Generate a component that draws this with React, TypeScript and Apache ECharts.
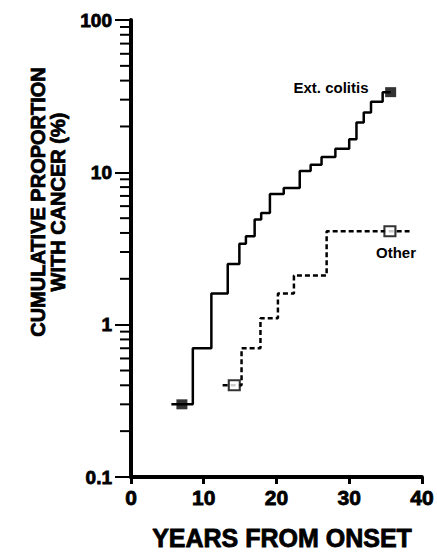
import React, { useEffect, useRef } from "react";
import * as echarts from "echarts";

const extColitis: [number, number][] = [
  [5.55, 0.3], [8.5, 0.7], [11.05, 1.6], [13.3, 2.5], [14.9, 3.4], [15.8, 3.8],
  [17.0, 4.9], [17.9, 5.4], [19.1, 7.2], [21.0, 7.9], [23.2, 10.2], [24.7, 11.2],
  [26.2, 12.6], [28.1, 14.3], [30.0, 16.5], [31.0, 21.2], [32.0, 24.7], [33.0, 29.1],
  [34.6, 33.6], [35.7, 33.6],
];
const extMarkers: [number, number][] = [[7.0, 0.3], [35.7, 33.6]];

const other: [number, number][] = [
  [12.6, 0.4], [15.2, 0.7], [17.8, 1.1], [20.2, 1.6], [22.4, 2.1], [26.9, 4.1], [38.3, 4.1],
];
const otherMarkers: [number, number][] = [[14.2, 0.4], [35.6, 4.1]];

const xTicks = [0, 10, 20, 30, 40];
const yMajorLabels: Record<string, string> = { "0.1": "0.1", "1": "1", "10": "10", "100": "100" };
const yMinorTicks = [0.2, 0.3, 0.4, 0.5, 0.6, 0.7, 0.8, 0.9, 2, 3, 4, 5, 6, 7, 8, 9, 20, 30, 40, 50, 60, 70, 80, 90];

const FONT = "Liberation Sans";

export default function App() {
  const ref = useRef<HTMLDivElement>(null);
  useEffect(() => {
    if (!ref.current) return;
    const chart = echarts.init(ref.current, undefined, { renderer: "svg" });
    chart.setOption({
      animation: false,
      backgroundColor: "#fff",
      textStyle: { fontFamily: FONT, fontWeight: "bold", color: "#000" },
      grid: { left: 131, right: 13, top: 20, bottom: 76, containLabel: false },
      xAxis: {
        type: "value",
        min: xTicks[0],
        max: xTicks[xTicks.length - 1],
        interval: 10,
        axisLine: { show: true, lineStyle: { color: "#000", width: 4 } },
        axisTick: { show: true, inside: false, length: 7, lineStyle: { color: "#000", width: 3 } },
        axisLabel: {
          margin: 10,
          formatter: (v: number) => `{t|${v}}`,
          rich: {
            t: {
              color: "#000", fontSize: 21, fontWeight: "bold", fontFamily: FONT,
              textBorderColor: "#000", textBorderWidth: 0.8,
            },
          },
        },
        splitLine: { show: false },
      },
      yAxis: {
        type: "log",
        logBase: 10,
        min: 0.1,
        max: 100,
        axisLine: { show: true, lineStyle: { color: "#000", width: 4 } },
        axisTick: { show: true, inside: false, length: 16, lineStyle: { color: "#000", width: 2 } },
        axisLabel: {
          margin: 19,
          formatter: (v: number) => {
            const k = String(Math.round(v * 10) / 10);
            return `{t|${yMajorLabels[k] ?? k}}`;
          },
          rich: {
            t: {
              color: "#000", fontSize: 19, fontWeight: "bold", fontFamily: FONT,
              textBorderColor: "#000", textBorderWidth: 0.8,
            },
          },
        },
        splitLine: { show: false },
      },
      series: [
        {
          type: "custom",
          clip: false,
          silent: true,
          data: yMinorTicks.map((v) => [0, v]),
          encode: { x: 0, y: 1 },
          z: 10,
          renderItem: (params: any, api: any) => {
            const p = api.coord([0, api.value(1)]);
            return {
              type: "line",
              shape: { x1: p[0] - 11, y1: p[1], x2: p[0], y2: p[1] },
              style: { stroke: "#000", lineWidth: 2 },
            };
          },
        },
        {
          type: "line",
          step: "end",
          data: extColitis,
          symbol: "none",
          lineStyle: { color: "#000", width: 2.5 },
          z: 3,
        },
        {
          type: "line",
          step: "end",
          data: other,
          symbol: "none",
          lineStyle: { color: "#000", width: 2.5, type: [5, 3] },
          z: 3,
        },
        {
          type: "scatter",
          data: extMarkers,
          symbol: "rect",
          symbolSize: [11, 10],
          itemStyle: { color: "#000", borderColor: "#000", borderWidth: 0 },
          z: 5,
        },
        {
          type: "scatter",
          data: otherMarkers,
          symbol: "rect",
          symbolSize: [11, 10],
          itemStyle: { color: "#fff", borderColor: "#000", borderWidth: 2 },
          z: 5,
        },
      ],
      graphic: [
        {
          type: "text",
          x: 48,
          y: 202,
          rotation: Math.PI / 2,
          style: {
            text: "CUMULATIVE PROPORTION\nWITH CANCER (%)",
            fill: "#000",
            font: `bold 20px ${FONT}`,
            textAlign: "center",
            textVerticalAlign: "middle",
            lineHeight: 20,
            stroke: "#000",
            lineWidth: 0.8,
          },
        },
        {
          type: "text",
          x: 282,
          y: 538,
          style: {
            text: "YEARS FROM ONSET",
            fill: "#000",
            font: `bold 25px ${FONT}`,
            textAlign: "center",
            textVerticalAlign: "middle",
            stroke: "#000",
            lineWidth: 0.8,
          },
        },
        {
          type: "text",
          x: 331,
          y: 87,
          style: {
            text: "Ext. colitis",
            fill: "#000",
            font: `bold 15px ${FONT}`,
            textAlign: "center",
            textVerticalAlign: "middle",
          },
        },
        {
          type: "text",
          x: 396,
          y: 252,
          style: {
            text: "Other",
            fill: "#000",
            font: `bold 15px ${FONT}`,
            textAlign: "center",
            textVerticalAlign: "middle",
          },
        },
      ],
    });
    return () => chart.dispose();
  }, []);
  return <div ref={ref} style={{ width: 437, height: 553, position: "absolute", left: 0, top: 0 }} />;
}
